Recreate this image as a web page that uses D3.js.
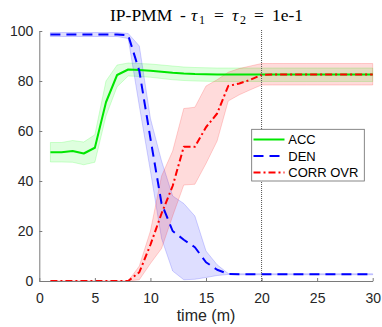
<!DOCTYPE html>
<html>
<head>
<meta charset="utf-8">
<script src="https://cdn.jsdelivr.net/npm/d3@7"></script>
<style>
  html, body { margin: 0; padding: 0; background: #fff; }
  svg { display: block; }
</style>
</head>
<body>
<div id="chart"></div>
<script>
// ---- data ----
const time = [1,2,3,4,5,6,7,8,9,10,11,12,13,14,15,16,17,18,19,20,21,22,23,24,25,26,27,28,29,30];

const accMean  = [51.5,51.5,52.0,51.0,53.3,71.5,82.4,84.6,84.4,84.1,83.7,83.3,83.0,82.8,82.7,82.6,82.6,82.6,82.6,82.6,82.6,82.6,82.6,82.6,82.6,82.6,82.6,82.6,82.6,82.6];
const accUpper = [55.4,55.4,56.2,55.6,58.5,80.0,86.4,87.2,87.0,86.8,86.4,86.0,85.6,85.4,85.3,85.2,85.2,85.2,85.2,85.2,85.2,85.2,85.2,85.2,85.2,85.2,85.2,85.2,85.2,85.2];
const accLower = [47.6,47.6,47.5,46.5,47.5,66.0,77.7,82.0,81.8,81.5,81.0,80.5,80.2,80.0,79.9,79.8,79.8,79.8,79.8,79.8,79.8,79.8,79.8,79.8,79.8,79.8,79.8,79.8,79.8,79.8];

const denMean  = [98.6,98.6,98.6,98.6,98.6,98.6,98.6,98.3,84.0,57.0,31.0,20.0,16.5,13.5,7.5,4.5,2.8,2.7,2.7,2.7,2.7,2.7,2.7,2.7,2.7,2.7,2.7,2.7,2.7,2.7];
const denUpper = [99.4,99.4,99.4,99.4,99.4,99.4,99.4,99.0,94.0,65.0,48.0,34.0,31.0,26.0,12.0,6.5,3.0,2.9,2.9,2.9,2.9,2.9,2.9,2.9,2.9,2.9,2.9,2.9,2.9,2.9];
const denLower = [97.8,97.8,97.8,97.8,97.8,97.8,97.8,97.0,70.0,44.0,17.0,4.0,0.5,0.7,1.4,2.2,2.6,2.5,2.5,2.5,2.5,2.5,2.5,2.5,2.5,2.5,2.5,2.5,2.5,2.5];

const corrMean  = [0,0,0,0,0,0,0,0,3.5,14.5,27.0,38.0,53.7,53.7,61.5,67.0,78.0,79.0,80.5,82.5,82.6,82.6,82.6,82.6,82.6,82.6,82.6,82.6,82.6,82.6];
const corrUpper = [0,0,0,0,0,0,0,0,6.0,20.0,42.0,52.0,69.0,69.5,78.0,80.5,83.5,85.0,86.0,87.0,87.0,87.0,87.0,87.0,87.0,87.0,87.0,87.0,87.0,87.0];
const corrLower = [0,0,0,0,0,0,0,0,0.5,7.0,13.0,26.0,38.4,38.7,47.0,56.0,72.0,74.5,76.5,78.4,78.4,78.4,78.4,78.4,78.4,78.4,78.4,78.4,78.4,78.4];

const seriesNames = ["ACC", "DEN", "CORR OVR"];
const xTicks = [0,5,10,15,20,25,30];
const yTicks = [0,20,40,60,80,100];
const markerTime = 20;

// ---- layout ----
const W = 382, H = 327;
const mLeft = 39.3, mRight = 372.7, mTop = 31, mBottom = 281;

const svg = d3.select("#chart").append("svg")
  .attr("width", W).attr("height", H);

const x = d3.scaleLinear().domain([0,30]).range([mLeft, mRight]);
const y = d3.scaleLinear().domain([0,100]).range([mBottom, mTop]);

const series = [
  {name: seriesNames[0], mean: accMean,  lo: accLower,  hi: accUpper,  color: "#00e600", fill: "#00ff00", fillOp: 0.13, dash: null},
  {name: seriesNames[1], mean: denMean,  lo: denLower,  hi: denUpper,  color: "#0000ff", fill: "#0000ff", fillOp: 0.13, dash: "10,6"},
  {name: seriesNames[2], mean: corrMean, lo: corrLower, hi: corrUpper, color: "#ff0000", fill: "#ff0000", fillOp: 0.14, dash: "7,3,2,3"}
];

// bands
const area = d3.area()
  .x(d => x(d.t)).y0(d => y(d.lo)).y1(d => y(d.hi));
series.forEach(s => {
  const pts = time.map((t,i) => ({t, lo: s.lo[i], hi: s.hi[i]}));
  svg.append("path").datum(pts)
    .attr("d", area)
    .attr("fill", s.fill).attr("fill-opacity", s.fillOp)
    .attr("stroke", s.fill).attr("stroke-opacity", 0.22).attr("stroke-width", 0.8);
});

// lines
const line = d3.line().x(d => x(d.t)).y(d => y(d.v));
series.forEach(s => {
  const pts = time.map((t,i) => ({t, v: s.mean[i]}));
  const p = svg.append("path").datum(pts)
    .attr("d", line)
    .attr("fill", "none")
    .attr("stroke", s.color).attr("stroke-width", 2)
    .attr("stroke-linejoin", "round");
  if (s.dash) p.attr("stroke-dasharray", s.dash);
});

// axes
const axisColor = "#7a7a7a";
const textColor = "#262626";
const sans = "'Liberation Sans', Arial, Helvetica, sans-serif";
const gx = svg.append("g").attr("transform", `translate(0,${mBottom})`)
  .call(d3.axisBottom(x).tickValues(xTicks).tickSizeInner(-3).tickSizeOuter(0).tickPadding(12));
const gy = svg.append("g").attr("transform", `translate(${mLeft},0)`)
  .call(d3.axisLeft(y).tickValues(yTicks).tickSizeInner(-3).tickSizeOuter(0).tickPadding(6));
[gx, gy].forEach(g => {
  g.select(".domain").attr("stroke", axisColor);
  g.selectAll(".tick line").attr("stroke", axisColor);
  g.selectAll(".tick text").attr("fill", textColor)
    .attr("font-family", sans)
    .attr("font-size", 14);
});

// vertical dotted marker
svg.append("line")
  .attr("x1", x(markerTime)).attr("x2", x(markerTime))
  .attr("y1", y(100) - 1).attr("y2", mBottom)
  .attr("stroke", "#555").attr("stroke-width", 1)
  .attr("stroke-dasharray", "1,1");

// x label
svg.append("text")
  .attr("x", (mLeft + mRight) / 2).attr("y", 321)
  .attr("text-anchor", "middle")
  .attr("font-family", sans)
  .attr("font-size", 16).attr("fill", textColor)
  .text("time (m)");

// title (LaTeX-like)
const serif = "'Liberation Serif', 'Times New Roman', serif";
const title = svg.append("text")
  .attr("y", 20.5)
  .attr("font-family", serif)
  .attr("font-size", 17.5).attr("fill", "#000");
const tParts = [
  {t: "IP-PMM", x: 110},
  {t: "-", x: 180},
  {t: "τ", x: 191, it: true},
  {t: "1", x: 199, sub: true},
  {t: "=", x: 214},
  {t: "τ", x: 232, it: true},
  {t: "2", x: 240, sub: true},
  {t: "=", x: 254},
  {t: "1e-1", x: 272}
];
tParts.forEach(p => {
  const ts = title.append("tspan").attr("x", p.x).attr("y", p.sub ? 24 : 20.5).text(p.t);
  if (p.it) ts.attr("font-style", "italic");
  if (p.sub) ts.attr("font-size", 12);
});

// legend
const lg = svg.append("g");
lg.append("rect")
  .attr("x", 251.7).attr("y", 129.3).attr("width", 112.6).attr("height", 51.7)
  .attr("fill", "#fff").attr("stroke", "#6a6a6a").attr("stroke-width", 0.8);
series.forEach((s, i) => {
  const cy = 139.5 + i * 16.5;
  const l = lg.append("line")
    .attr("x1", 253.5).attr("x2", 284.5).attr("y1", cy).attr("y2", cy)
    .attr("stroke", s.color).attr("stroke-width", 2);
  if (s.dash) l.attr("stroke-dasharray", s.dash);
  lg.append("text")
    .attr("x", 288.3).attr("y", cy).attr("dy", "0.36em")
    .attr("font-family", sans)
    .attr("font-size", 13).attr("fill", "#000")
    .text(s.name);
});
</script>
</body>
</html>
